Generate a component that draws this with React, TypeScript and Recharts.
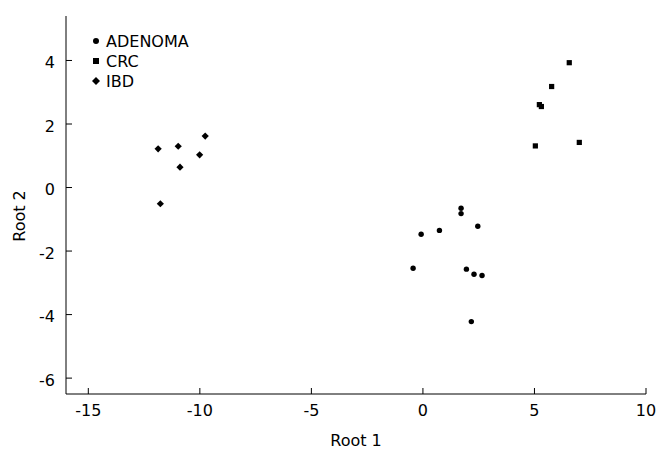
import React from 'react'
import { ScatterChart, Scatter, XAxis, YAxis, Legend } from 'recharts'

const adenomaX = [1.71, 1.71, 2.46, 0.74, -0.08, -0.44, 1.95, 2.29, 2.65, 2.17]
const adenomaY = [-0.65, -0.82, -1.22, -1.35, -1.47, -2.54, -2.57, -2.73, -2.77, -4.22]
const crcX = [6.56, 5.77, 5.22, 5.31, 5.04, 7.01]
const crcY = [3.93, 3.18, 2.61, 2.55, 1.31, 1.42]
const ibdX = [-11.87, -10.97, -9.76, -10.01, -10.89, -11.77]
const ibdY = [1.22, 1.3, 1.62, 1.03, 0.64, -0.51]

const xTicks = [-15, -10, -5, 0, 5, 10]
const yTicks = [-6, -4, -2, 0, 2, 4]

const FONT = '"DejaVu Sans", Verdana, sans-serif'

const toPoints = (xs: number[], ys: number[]) => xs.map((x, i) => ({ x, y: ys[i] }))

const adenoma = toPoints(adenomaX, adenomaY)
const crc = toPoints(crcX, crcY)
const ibd = toPoints(ibdX, ibdY)

const Dot = (props: any) => <circle cx={props.cx} cy={props.cy} r={2.7} fill="#000" />
const Square = (props: any) => (
  <rect x={props.cx - 2.6} y={props.cy - 2.6} width={5.2} height={5.2} fill="#000" />
)
const Diamond = (props: any) => {
  const { cx, cy } = props
  const s = 3.6
  return <polygon points={`${cx},${cy - s} ${cx + s},${cy} ${cx},${cy + s} ${cx - s},${cy}`} fill="#000" />
}

function Marker({ kind }: { kind: string }) {
  return (
    <svg width={10} height={10} style={{ marginRight: 5 }}>
      {kind === 'circle' && <circle cx={5} cy={5} r={3} fill="#000" />}
      {kind === 'square' && <rect x={2} y={2} width={6} height={6} fill="#000" />}
      {kind === 'diamond' && <polygon points="5,1 9,5 5,9 1,5" fill="#000" />}
    </svg>
  )
}

const legendItems = [
  { name: 'ADENOMA', kind: 'circle' },
  { name: 'CRC', kind: 'square' },
  { name: 'IBD', kind: 'diamond' },
]

function renderLegend() {
  return (
    <div style={{ fontFamily: FONT, fontSize: 16, color: '#000' }}>
      {legendItems.map((it) => (
        <div key={it.name} style={{ display: 'flex', alignItems: 'center', height: 20 }}>
          <Marker kind={it.kind} />
          <span>{it.name}</span>
        </div>
      ))}
    </div>
  )
}

export default function App() {
  const tickStyle = { fontFamily: FONT, fontSize: 16, fill: '#000' }
  return (
    <div style={{ position: 'absolute', left: 0, top: 0, width: 656, height: 453, background: '#fff' }}>
      <ScatterChart width={656} height={453} margin={{ top: 16, right: 10, bottom: 29, left: 30 }}>
        <XAxis
          type="number"
          dataKey="x"
          domain={[-16, 10]}
          ticks={xTicks}
          allowDataOverflow
          height={30}
          tickSize={-6}
          tickMargin={17}
          tick={tickStyle}
          axisLine={{ stroke: '#000' }}
          tickLine={{ stroke: '#000' }}
          label={(p: any) => (
            <text x={p.viewBox.x + p.viewBox.width / 2} y={446} textAnchor="middle" style={tickStyle}>
              Root 1
            </text>
          )}
        />
        <YAxis
          type="number"
          dataKey="y"
          domain={[-6.5, 5.4]}
          ticks={yTicks}
          allowDataOverflow
          width={36}
          tickSize={-6}
          tickMargin={17}
          tick={{ ...tickStyle, dy: 2 }}
          axisLine={{ stroke: '#000' }}
          tickLine={{ stroke: '#000' }}
          label={() => (
            <text x={25} y={216} transform="rotate(-90 25 216)" textAnchor="middle" style={tickStyle}>
              Root 2
            </text>
          )}
        />
        <Legend
          layout="vertical"
          align="center"
          verticalAlign="middle"
          wrapperStyle={{ left: 91, top: 31, width: 'auto' }}
          content={renderLegend}
        />
        <Scatter name="ADENOMA" data={adenoma} shape={Dot} isAnimationActive={false} />
        <Scatter name="CRC" data={crc} shape={Square} isAnimationActive={false} />
        <Scatter name="IBD" data={ibd} shape={Diamond} isAnimationActive={false} />
      </ScatterChart>
    </div>
  )
}
